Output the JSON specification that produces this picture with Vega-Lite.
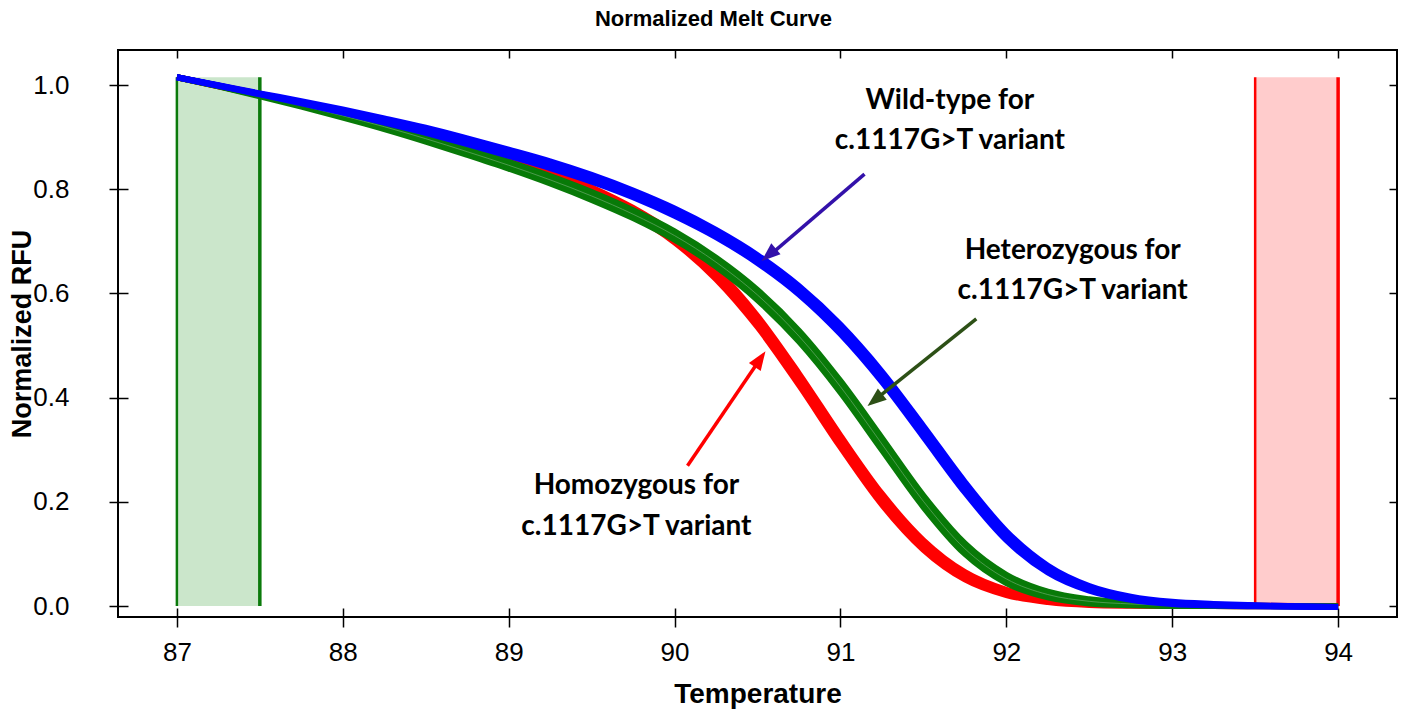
{
  "$schema": "https://vega.github.io/schema/vega-lite/v6.json",
  "width": 1279,
  "height": 567,
  "autosize": "none",
  "padding": {"left": 118, "top": 50, "right": 7, "bottom": 94},
  "background": "white",
  "title": {"text": "Normalized Melt Curve", "font": "Liberation Sans", "fontSize": 22, "fontWeight": "bold", "color": "black", "anchor": "middle", "dx": -44, "offset": 18},
  "config": {
    "view": {"stroke": "black", "strokeWidth": 2},
    "axis": {"grid": false, "domain": false, "labelFont": "Liberation Sans", "labelFontSize": 26, "labelColor": "black", "titleFont": "Liberation Sans", "titleFontSize": 27, "titleFontWeight": "bold", "titleColor": "black", "tickColor": "black", "tickWidth": 1.5}
  },
  "datasets": {
    "zones": [
      {"zone": "start", "T1": 87, "T2": 87.5, "base": 0, "top": 1.015},
      {"zone": "end", "T1": 93.5, "T2": 94, "base": 0, "top": 1.015}
    ],
    "curves": [
      {"T": 87, "Hom1": 1.015, "Hom2": 1.015, "Hom3": 1.015, "Het1": 1.015, "Het2": 1.015, "Het3": 1.015, "WT1": 1.015, "WT2": 1.015, "WT3": 1.015},
      {"T": 87.25, "Hom1": 0.9985, "Hom2": 0.9975, "Hom3": 0.998, "Het1": 0.9985, "Het2": 0.9975, "Het3": 0.998, "WT1": 0.9995, "WT2": 0.9985, "WT3": 0.999},
      {"T": 87.5, "Hom1": 0.983, "Hom2": 0.981, "Hom3": 0.982, "Het1": 0.9815, "Het2": 0.9785, "Het3": 0.98, "WT1": 0.984, "WT2": 0.982, "WT3": 0.983},
      {"T": 87.75, "Hom1": 0.967, "Hom2": 0.963, "Hom3": 0.965, "Het1": 0.9635, "Het2": 0.9585, "Het3": 0.961, "WT1": 0.969, "WT2": 0.965, "WT3": 0.967},
      {"T": 88, "Hom1": 0.95, "Hom2": 0.944, "Hom3": 0.947, "Het1": 0.9445, "Het2": 0.9375, "Het3": 0.941, "WT1": 0.953, "WT2": 0.947, "WT3": 0.95},
      {"T": 88.25, "Hom1": 0.932, "Hom2": 0.924, "Hom3": 0.928, "Het1": 0.9245, "Het2": 0.9155, "Het3": 0.92, "WT1": 0.936, "WT2": 0.928, "WT3": 0.932},
      {"T": 88.5, "Hom1": 0.912, "Hom2": 0.902, "Hom3": 0.907, "Het1": 0.9025, "Het2": 0.8915, "Het3": 0.897, "WT1": 0.918, "WT2": 0.908, "WT3": 0.913},
      {"T": 88.75, "Hom1": 0.8885, "Hom2": 0.8775, "Hom3": 0.883, "Het1": 0.878, "Het2": 0.866, "Het3": 0.872, "WT1": 0.8975, "WT2": 0.8865, "WT3": 0.892},
      {"T": 89, "Hom1": 0.864, "Hom2": 0.852, "Hom3": 0.858, "Het1": 0.8525, "Het2": 0.8395, "Het3": 0.846, "WT1": 0.876, "WT2": 0.864, "WT3": 0.87},
      {"T": 89.25, "Hom1": 0.8365, "Hom2": 0.8235, "Hom3": 0.83, "Het1": 0.825, "Het2": 0.811, "Het3": 0.818, "WT1": 0.8535, "WT2": 0.8405, "WT3": 0.847},
      {"T": 89.5, "Hom1": 0.8035, "Hom2": 0.7905, "Hom3": 0.797, "Het1": 0.7945, "Het2": 0.7795, "Het3": 0.787, "WT1": 0.8275, "WT2": 0.8145, "WT3": 0.821},
      {"T": 89.75, "Hom1": 0.764, "Hom2": 0.75, "Hom3": 0.757, "Het1": 0.7595, "Het2": 0.7445, "Het3": 0.752, "WT1": 0.7975, "WT2": 0.7845, "WT3": 0.791},
      {"T": 90, "Hom1": 0.714, "Hom2": 0.698, "Hom3": 0.706, "Het1": 0.719, "Het2": 0.703, "Het3": 0.711, "WT1": 0.763, "WT2": 0.749, "WT3": 0.756},
      {"T": 90.25, "Hom1": 0.6465, "Hom2": 0.6275, "Hom3": 0.637, "Het1": 0.6685, "Het2": 0.6515, "Het3": 0.66, "WT1": 0.722, "WT2": 0.708, "WT3": 0.715},
      {"T": 90.5, "Hom1": 0.5565, "Hom2": 0.5355, "Hom3": 0.546, "Het1": 0.6065, "Het2": 0.5875, "Het3": 0.597, "WT1": 0.6735, "WT2": 0.6585, "WT3": 0.666},
      {"T": 90.75, "Hom1": 0.446, "Hom2": 0.424, "Hom3": 0.435, "Het1": 0.5285, "Het2": 0.5075, "Het3": 0.518, "WT1": 0.614, "WT2": 0.598, "WT3": 0.606},
      {"T": 91, "Hom1": 0.327, "Hom2": 0.305, "Hom3": 0.316, "Het1": 0.432, "Het2": 0.41, "Het3": 0.421, "WT1": 0.54, "WT2": 0.522, "WT3": 0.531},
      {"T": 91.25, "Hom1": 0.2155, "Hom2": 0.1945, "Hom3": 0.205, "Het1": 0.3225, "Het2": 0.2995, "Het3": 0.311, "WT1": 0.45, "WT2": 0.43, "WT3": 0.44},
      {"T": 91.5, "Hom1": 0.126, "Hom2": 0.108, "Hom3": 0.117, "Het1": 0.212, "Het2": 0.19, "Het3": 0.201, "WT1": 0.3455, "WT2": 0.3245, "WT3": 0.335},
      {"T": 91.75, "Hom1": 0.065, "Hom2": 0.051, "Hom3": 0.058, "Het1": 0.12, "Het2": 0.1, "Het3": 0.11, "WT1": 0.238, "WT2": 0.218, "WT3": 0.228},
      {"T": 92, "Hom1": 0.031, "Hom2": 0.021, "Hom3": 0.026, "Het1": 0.06, "Het2": 0.044, "Het3": 0.052, "WT1": 0.1435, "WT2": 0.1265, "WT3": 0.135},
      {"T": 92.25, "Hom1": 0.0145, "Hom2": 0.0075, "Hom3": 0.011, "Het1": 0.0275, "Het2": 0.0165, "Het3": 0.022, "WT1": 0.0775, "WT2": 0.0645, "WT3": 0.071},
      {"T": 92.5, "Hom1": 0.007, "Hom2": 0.002, "Hom3": 0.0045, "Het1": 0.013, "Het2": 0.005, "Het3": 0.009, "WT1": 0.0385, "WT2": 0.0295, "WT3": 0.034},
      {"T": 92.75, "Hom1": 0.0035, "Hom2": 0.0005, "Hom3": 0.002, "Het1": 0.0065, "Het2": 0.0015, "Het3": 0.004, "WT1": 0.018, "WT2": 0.012, "WT3": 0.015},
      {"T": 93, "Hom1": 0.002, "Hom2": 0.0, "Hom3": 0.001, "Het1": 0.003, "Het2": 0.0, "Het3": 0.0015, "WT1": 0.008, "WT2": 0.004, "WT3": 0.006},
      {"T": 93.25, "Hom1": 0.001, "Hom2": 0.0, "Hom3": 0.0005, "Het1": 0.002, "Het2": 0.0, "Het3": 0.001, "WT1": 0.004, "WT2": 0.001, "WT3": 0.0025},
      {"T": 93.5, "Hom1": 0.0005, "Hom2": -0.0005, "Hom3": 0.0, "Het1": 0.0005, "Het2": -0.0005, "Het3": 0.0, "WT1": 0.0015, "WT2": -0.0005, "WT3": 0.0005},
      {"T": 93.75, "Hom1": 0.0, "Hom2": 0.0, "Hom3": 0.0, "Het1": -0.0005, "Het2": -0.0005, "Het3": -0.0005, "WT1": -0.0005, "WT2": -0.0015, "WT3": -0.001},
      {"T": 94, "Hom1": 0.0, "Hom2": 0.0, "Hom3": 0.0, "Het1": -0.001, "Het2": -0.001, "Het3": -0.001, "WT1": -0.002, "WT2": -0.002, "WT3": -0.002}
    ],
    "labels": [
      {"grp": "WT", "line": "Wild-type for", "T": 91.66, "v": 0.969},
      {"grp": "WT", "line": "c.1117G>T variant", "T": 91.66, "v": 0.893},
      {"grp": "Het", "line": "Heterozygous for", "T": 92.4, "v": 0.681},
      {"grp": "Het", "line": "c.1117G>T variant", "T": 92.4, "v": 0.605},
      {"grp": "Hom", "line": "Homozygous for", "T": 89.77, "v": 0.23},
      {"grp": "Hom", "line": "c.1117G>T variant", "T": 89.77, "v": 0.152}
    ],
    "arrows": [
      {"arrow": "WT", "x1": 91.145, "y1": 0.829, "xn": 90.57, "yn": 0.672, "xt": 90.524, "yt": 0.662},
      {"arrow": "Het", "x1": 91.819, "y1": 0.551, "xn": 91.21, "yn": 0.396, "xt": 91.163, "yt": 0.384},
      {"arrow": "Hom", "x1": 90.078, "y1": 0.269, "xn": 90.514, "yn": 0.473, "xt": 90.548, "yt": 0.489}
    ]
  },
  "layer": [
    {
      "data": {"name": "zones"},
      "mark": {"type": "rect", "opacity": 1},
      "encoding": {
        "x": {"field": "T1", "type": "quantitative", "scale": {"domain": [86.645, 94.355], "nice": false, "zero": false},
              "axis": {"orient": "bottom", "values": [87, 88, 89, 90, 91, 92, 93, 94], "format": "d", "tickSize": 10, "labelPadding": 12, "title": "Temperature", "titleFontSize": 28, "titlePadding": 15}},
        "x2": {"field": "T2"},
        "y": {"field": "base", "type": "quantitative", "scale": {"domain": [-0.0211, 1.0672], "nice": false, "zero": false},
              "axis": {"orient": "left", "values": [0, 0.2, 0.4, 0.6, 0.8, 1.0], "format": ".1f", "tickSize": 9, "labelPadding": 40, "title": "Normalized RFU", "titlePadding": -4}},
        "y2": {"field": "top"},
        "color": {"field": "zone", "type": "nominal", "scale": {"domain": ["start", "end"], "range": ["#cbe6cb", "#ffcccc"]}, "legend": null}
      }
    },
    {
      "data": {"name": "zones"},
      "mark": {"type": "rule", "strokeWidth": 2.5},
      "encoding": {
        "x": {"field": "T1", "type": "quantitative", "scale": {"domain": [86.645, 94.355], "nice": false, "zero": false}, "axis": null},
        "y": {"field": "base", "type": "quantitative", "scale": {"domain": [-0.0211, 1.0672], "nice": false, "zero": false}, "axis": null},
        "y2": {"field": "top"},
        "color": {"field": "zone", "type": "nominal", "scale": {"domain": ["start", "end"], "range": ["#0b7a0b", "#ff0000"]}, "legend": null}
      }
    },
    {
      "data": {"name": "zones"},
      "mark": {"type": "rule", "strokeWidth": 3.5},
      "encoding": {
        "x": {"field": "T2", "type": "quantitative", "scale": {"domain": [86.645, 94.355], "nice": false, "zero": false}, "axis": null},
        "y": {"field": "base", "type": "quantitative", "scale": {"domain": [-0.0211, 1.0672], "nice": false, "zero": false}, "axis": null},
        "y2": {"field": "top"},
        "color": {"field": "zone", "type": "nominal", "scale": {"domain": ["start", "end"], "range": ["#0b7a0b", "#ff0000"]}, "legend": null}
      }
    },
    {
      "data": {"name": "curves"},
      "transform": [{"fold": ["Hom1", "Hom2", "Hom3"], "as": ["curve", "rfu"]}],
      "mark": {"type": "line", "color": "#ff0000", "strokeWidth": 6, "interpolate": "monotone"},
      "encoding": {
        "x": {"field": "T", "type": "quantitative", "scale": {"domain": [86.645, 94.355], "nice": false, "zero": false},
              "axis": {"orient": "top", "values": [87, 88, 89, 90, 91, 92, 93, 94], "labels": false, "tickSize": -8, "title": null}},
        "y": {"field": "rfu", "type": "quantitative", "scale": {"domain": [-0.0211, 1.0672], "nice": false, "zero": false},
              "axis": {"orient": "right", "values": [0, 0.2, 0.4, 0.6, 0.8, 1.0], "labels": false, "tickSize": -8, "title": null}},
        "detail": {"field": "curve", "type": "nominal"}
      }
    },
    {
      "data": {"name": "curves"},
      "transform": [{"fold": ["Het1", "Het2", "Het3"], "as": ["curve", "rfu"]}],
      "mark": {"type": "line", "color": "#087a08", "strokeWidth": 6, "interpolate": "monotone"},
      "encoding": {
        "x": {"field": "T", "type": "quantitative", "scale": {"domain": [86.645, 94.355], "nice": false, "zero": false},
              "axis": {"orient": "bottom", "values": [87, 88, 89, 90, 91, 92, 93, 94], "labels": false, "tickSize": -9, "title": null}},
        "y": {"field": "rfu", "type": "quantitative", "scale": {"domain": [-0.0211, 1.0672], "nice": false, "zero": false},
              "axis": {"orient": "left", "values": [0, 0.2, 0.4, 0.6, 0.8, 1.0], "labels": false, "tickSize": -10, "title": null}},
        "detail": {"field": "curve", "type": "nominal"}
      }
    },
    {
      "data": {"name": "curves"},
      "transform": [{"fold": ["Het3"], "as": ["curve", "rfu"]}],
      "mark": {"type": "line", "color": "#6aa86a", "strokeWidth": 1, "opacity": 0.7, "interpolate": "monotone"},
      "encoding": {
        "x": {"field": "T", "type": "quantitative", "scale": {"domain": [86.645, 94.355], "nice": false, "zero": false}, "axis": null},
        "y": {"field": "rfu", "type": "quantitative", "scale": {"domain": [-0.0211, 1.0672], "nice": false, "zero": false}, "axis": null},
        "detail": {"field": "curve", "type": "nominal"}
      }
    },
    {
      "data": {"name": "curves"},
      "transform": [{"fold": ["WT1", "WT2", "WT3"], "as": ["curve", "rfu"]}],
      "mark": {"type": "line", "color": "#0000ff", "strokeWidth": 6, "interpolate": "monotone"},
      "encoding": {
        "x": {"field": "T", "type": "quantitative", "scale": {"domain": [86.645, 94.355], "nice": false, "zero": false}, "axis": null},
        "y": {"field": "rfu", "type": "quantitative", "scale": {"domain": [-0.0211, 1.0672], "nice": false, "zero": false}, "axis": null},
        "detail": {"field": "curve", "type": "nominal"}
      }
    },
    {
      "data": {"name": "arrows"},
      "mark": {"type": "rule", "strokeWidth": 3.5},
      "encoding": {
        "x": {"field": "x1", "type": "quantitative", "scale": {"domain": [86.645, 94.355], "nice": false, "zero": false}, "axis": null},
        "y": {"field": "y1", "type": "quantitative", "scale": {"domain": [-0.0211, 1.0672], "nice": false, "zero": false}, "axis": null},
        "x2": {"field": "xn"},
        "y2": {"field": "yn"},
        "color": {"field": "arrow", "type": "nominal", "scale": {"domain": ["WT", "Het", "Hom"], "range": ["#3311aa", "#2d5016", "#ff0000"]}, "legend": null}
      }
    },
    {
      "data": {"name": "arrows"},
      "transform": [{"filter": "datum.arrow === 'WT'"}],
      "mark": {"type": "point", "shape": "M0,0L-0.75,2L0.75,2Z", "size": 360, "filled": true, "opacity": 1, "angle": 229.5, "color": "#3311aa"},
      "encoding": {
        "x": {"field": "xt", "type": "quantitative", "scale": {"domain": [86.645, 94.355], "nice": false, "zero": false}, "axis": null},
        "y": {"field": "yt", "type": "quantitative", "scale": {"domain": [-0.0211, 1.0672], "nice": false, "zero": false}, "axis": null}
      }
    },
    {
      "data": {"name": "arrows"},
      "transform": [{"filter": "datum.arrow === 'Het'"}],
      "mark": {"type": "point", "shape": "M0,0L-0.75,2L0.75,2Z", "size": 360, "filled": true, "opacity": 1, "angle": 231.4, "color": "#2d5016"},
      "encoding": {
        "x": {"field": "xt", "type": "quantitative", "scale": {"domain": [86.645, 94.355], "nice": false, "zero": false}, "axis": null},
        "y": {"field": "yt", "type": "quantitative", "scale": {"domain": [-0.0211, 1.0672], "nice": false, "zero": false}, "axis": null}
      }
    },
    {
      "data": {"name": "arrows"},
      "transform": [{"filter": "datum.arrow === 'Hom'"}],
      "mark": {"type": "point", "shape": "M0,0L-0.75,2L0.75,2Z", "size": 360, "filled": true, "opacity": 1, "angle": 34.1, "color": "#ff0000"},
      "encoding": {
        "x": {"field": "xt", "type": "quantitative", "scale": {"domain": [86.645, 94.355], "nice": false, "zero": false}, "axis": null},
        "y": {"field": "yt", "type": "quantitative", "scale": {"domain": [-0.0211, 1.0672], "nice": false, "zero": false}, "axis": null}
      }
    },
    {
      "data": {"name": "labels"},
      "mark": {"type": "text", "font": "Lato", "fontWeight": "bold", "fontSize": 28, "color": "black", "align": "center", "baseline": "middle"},
      "encoding": {
        "x": {"field": "T", "type": "quantitative", "scale": {"domain": [86.645, 94.355], "nice": false, "zero": false}, "axis": null},
        "y": {"field": "v", "type": "quantitative", "scale": {"domain": [-0.0211, 1.0672], "nice": false, "zero": false}, "axis": null},
        "text": {"field": "line", "type": "nominal"}
      }
    }
  ],
  "resolve": {"axis": {"x": "independent", "y": "independent"}, "scale": {"color": "independent"}}
}
